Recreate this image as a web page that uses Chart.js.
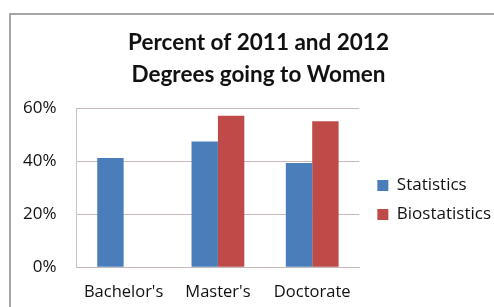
<!DOCTYPE html>
<html>
<head>
<meta charset="utf-8">
<script src="https://cdn.jsdelivr.net/npm/chart.js@4/dist/chart.umd.min.js"></script>
<style>
html,body{margin:0;padding:0;background:#fff;}
#wrap{width:494px;height:307px;position:relative;}
</style>
</head>
<body>
<div id="wrap"><canvas id="c" width="494" height="307"></canvas></div>
<script>
const titleLines = ["Percent of 2011 and 2012", "Degrees going to Women"];
const categories = ["Bachelor's", "Master's", "Doctorate"];
const seriesNames = ["Statistics", "Biostatistics"];
const statistics = [41.2, 47.4, 39.3];
const biostatistics = [null, 57.1, 55.0];
const yTicks = [0, 20, 40, 60];

const TFONT = "Lato, 'Open Sans', sans-serif";
const FONT = "'Open Sans', Lato, sans-serif";
const LEGEND_WIDTH_ADJ = -1;
const LEGEND_SHIFT_X = 6;
const LEGEND_SHIFT_Y = 49;

const frame = {
  id: 'frame',
  beforeDraw(chart) {
    const ctx = chart.ctx;
    ctx.save();
    ctx.fillStyle = '#ffffff';
    ctx.fillRect(0, 0, chart.width, chart.height);
    ctx.strokeStyle = '#a6a6a6';
    ctx.lineWidth = 2;
    ctx.beginPath();
    ctx.moveTo(10, chart.height);
    ctx.lineTo(10, 14);
    ctx.lineTo(chart.width, 14);
    ctx.stroke();
    ctx.restore();
  }
};

// let the right-hand legend be wider than Chart.js' default cap, and place it like the original
const legendSpace = {
  id: 'legendSpace',
  beforeLayout(chart) {
    const lg = chart.legend;
    if (!lg || lg._wide) return;
    lg._wide = true;
    const upd = lg.update.bind(lg);
    lg.update = (w, h, m) => upd(220, h, m);
    const fit = lg.fit.bind(lg);
    lg.fit = () => { fit(); lg.width += LEGEND_WIDTH_ADJ; };
  },
  afterLayout(chart) {
    const lg = chart.legend;
    if (lg) {
      lg.left += LEGEND_SHIFT_X;
      lg.top += LEGEND_SHIFT_Y;
      lg.bottom += LEGEND_SHIFT_Y;
    }
  }
};

new Chart(document.getElementById('c'), {
  type: 'bar',
  data: {
    labels: categories,
    datasets: [
      { label: seriesNames[0], data: statistics, backgroundColor: '#4a7ebb' },
      { label: seriesNames[1], data: biostatistics, backgroundColor: '#be4b48' }
    ]
  },
  options: {
    responsive: false,
    animation: false,
    devicePixelRatio: 1,
    layout: { padding: { left: 23, right: 0, top: 0, bottom: 5 } },
    datasets: { bar: { categoryPercentage: 0.56, barPercentage: 1.0 } },
    plugins: {
      title: {
        display: true,
        text: titleLines,
        color: '#111',
        font: { family: TFONT, size: 22.5, weight: 'bold', lineHeight: 1.4 },
        padding: { top: 27, bottom: 18 }
      },
      legend: {
        position: 'right',
        labels: {
          color: '#111',
          font: { family: FONT, size: 17 },
          boxWidth: 11,
          boxHeight: 11,
          padding: 12
        }
      },
      tooltip: { enabled: false }
    },
    scales: {
      x: {
        grid: { display: false, drawTicks: false },
        border: { color: '#c4b8b8' },
        ticks: { color: '#111', font: { family: FONT, size: 16.5 }, padding: 15, maxRotation: 0, autoSkip: false },
        afterFit(axis) { axis.height -= axis.options.ticks.padding; }
      },
      y: {
        min: 0,
        max: 60,
        afterBuildTicks(axis) { axis.ticks = yTicks.map(v => ({ value: v })); },
        grid: { color: '#c9b8b8', drawTicks: false },
        border: { color: '#c4c4c4' },
        ticks: {
          color: '#111',
          font: { family: FONT, size: 17 },
          padding: 20,
          callback: v => v + '%'
        },
        afterFit(axis) { axis.width -= axis.options.ticks.padding; }
      }
    }
  },
  plugins: [frame, legendSpace]
});
</script>
</body>
</html>
